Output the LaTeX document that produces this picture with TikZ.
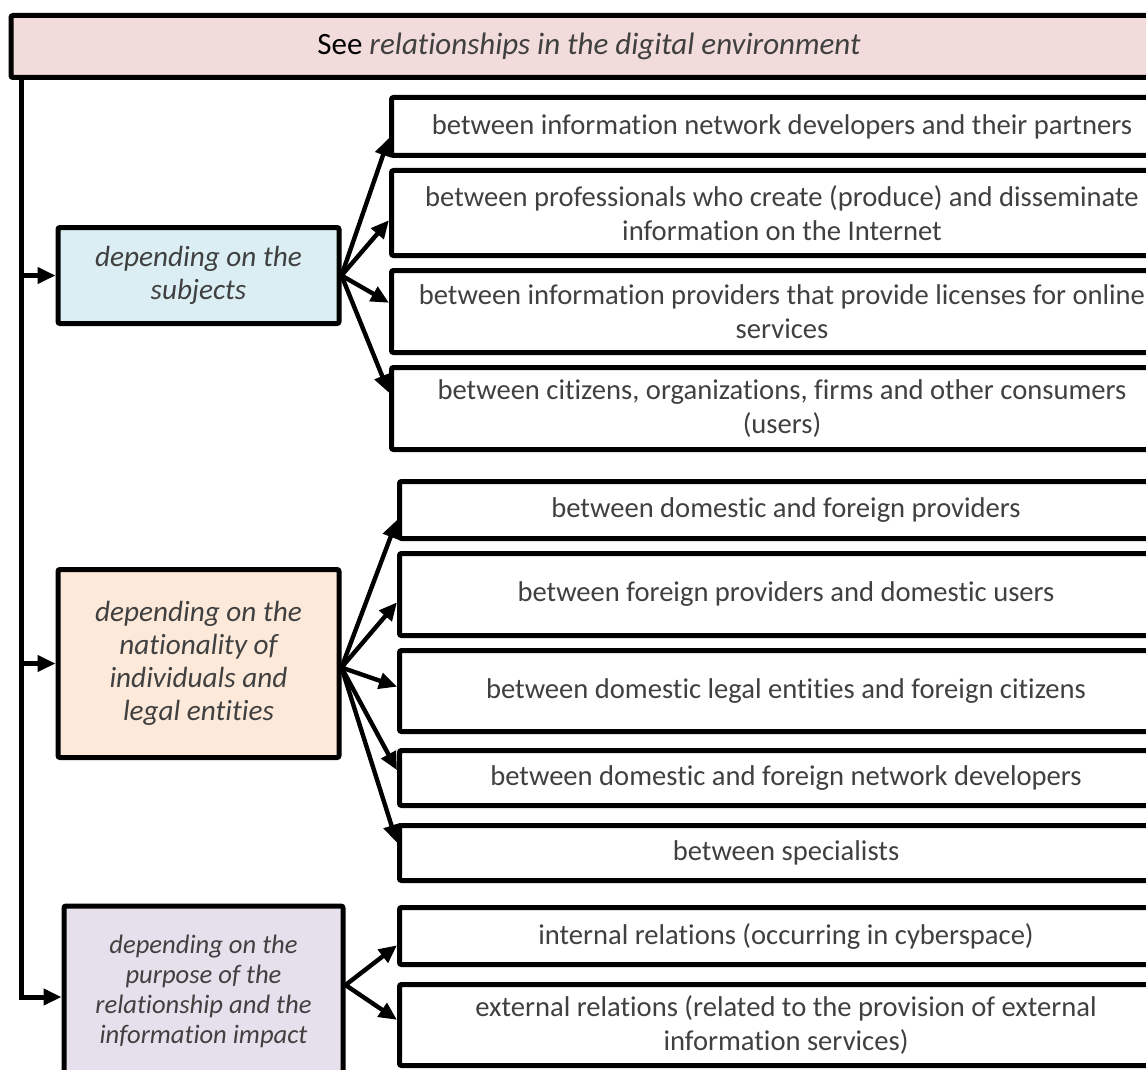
\documentclass[tikz,border=0pt]{standalone}
\usepackage{fontspec}
\setmainfont[Ligatures={NoCommon,NoRare,NoContextual},
  Contextuals=NoAlternate,RawFeature={-liga;-clig;-dlig;-calt}]{Carlito}
\usetikzlibrary{arrows.meta,calc}
\definecolor{txtgray}{HTML}{404040}
\definecolor{hdpink}{HTML}{F2DCDB}
\definecolor{subblue}{HTML}{DBEEF4}
\definecolor{natpeach}{HTML}{FDE9D9}
\definecolor{purlilac}{HTML}{E5E0EC}
\tikzset{
  box/.style={draw=black,line width=2.5pt,rounded corners=1pt,align=center,
    text=txtgray,inner sep=2pt},
  rbox/.style={box,fill=white,minimum width=#1,
    font=\fontsize{14.3}{17}\selectfont},
  lbox/.style={box,minimum width=140.5pt,
    font=\fontsize{14.6}{16.5}\selectfont\itshape},
  spine/.style={line width=2.5pt},
  fan/.style={line width=2.2pt,-{Triangle[length=9pt,width=8pt]}}
}
\begin{document}
\begin{tikzpicture}[x=0.5pt,y=-0.5pt]
\useasboundingbox (0,0) rectangle (1146,1070);
\clip (0,0) rectangle (1146,1070);
% header:
\node[box,fill=hdpink,minimum width=578pt,minimum height=31pt,
  font=\fontsize{15.5}{18}\selectfont] (hd) at (589,46.5)
  {\textcolor{black}{See} \textit{relationships in the digital environment}};
% left column:
\node[lbox,fill=subblue,minimum height=48pt] (subj) at (198.5,275.5)
  {depending on the\\subjects};
\node[lbox,fill=natpeach,minimum height=94pt] (natl) at (198.5,663.5)
  {depending on the\\nationality of\\individuals and\\legal entities};
\node[lbox,fill=purlilac,minimum width=139.5pt,minimum height=85pt,
  font=\fontsize{13.3}{15}\selectfont\itshape] (purp) at (203.5,991)
  {depending on the\\purpose of the\\relationship and the\\information impact};
% right boxes, subjects:
\node[rbox=390.5pt,minimum height=29pt] (s1) at (782,126.5)
  {between information network developers and their partners};
\node[rbox=390.5pt,minimum height=42.5pt] (s2) at (782,213)
  {between professionals who create (produce) and disseminate\\information on the Internet};
\node[rbox=390.5pt,minimum height=41pt] (s3) at (782,311.5)
  {between information providers that provide licenses for online\\services};
\node[rbox=390.5pt,minimum height=41pt] (s4) at (782,408.5)
  {between citizens, organizations, firms and other consumers\\(users)};
% right boxes, nationality:
\node[rbox=386.5pt,minimum height=28.5pt] (n1) at (786,510)
  {between domestic and foreign providers};
\node[rbox=386.5pt,minimum height=41pt] (n2) at (786,594.5)
  {between foreign providers and domestic users};
\node[rbox=386.5pt,minimum height=40.5pt] (n3) at (786,691)
  {between domestic legal entities and foreign citizens};
\node[rbox=386.5pt,minimum height=27.5pt] (n4) at (786,778)
  {between domestic and foreign network developers};
\node[rbox=386.5pt,minimum height=27.5pt] (n5) at (786,853)
  {between specialists};
% right boxes, purpose:
\node[rbox=386.5pt,minimum height=28.5pt] (p1) at (786,936)
  {internal relations (occurring in cyberspace)};
\node[rbox=386.5pt,minimum height=40.5pt] (p2) at (786,1025)
  {external relations (related to the provision of external\\information services)};
% spine and branches:
\coordinate (top) at (21,78);
\draw[spine] (top) |- ($(purp.west)+(-8,6)$);
\draw[fan] ($(top |- purp.west)+(0,6)$) -- ($(purp.west)+(0,6)$);
\draw[fan] (top |- subj.west) -- (subj.west);
\draw[fan] (top |- natl.west) -- (natl.west);
% fans:
\foreach \b/\f in {s1/0.68,s2/0.58,s3/0.40,s4/0.32}
  \draw[fan] (subj.east) -- ($(\b.north west)!\f!(\b.south west)$);
\foreach \b/\f in {n1/0.66,n2/0.59,n3/0.45,n4/0.37,n5/0.33}
  \draw[fan] ($(natl.east)+(0,4)$) -- ($(\b.north west)!\f!(\b.south west)$);
\foreach \b/\f in {p1/0.65,p2/0.44}
  \draw[fan] ($(purp.east)+(0,-6)$) -- ($(\b.north west)!\f!(\b.south west)$);
\end{tikzpicture}
\end{document}
